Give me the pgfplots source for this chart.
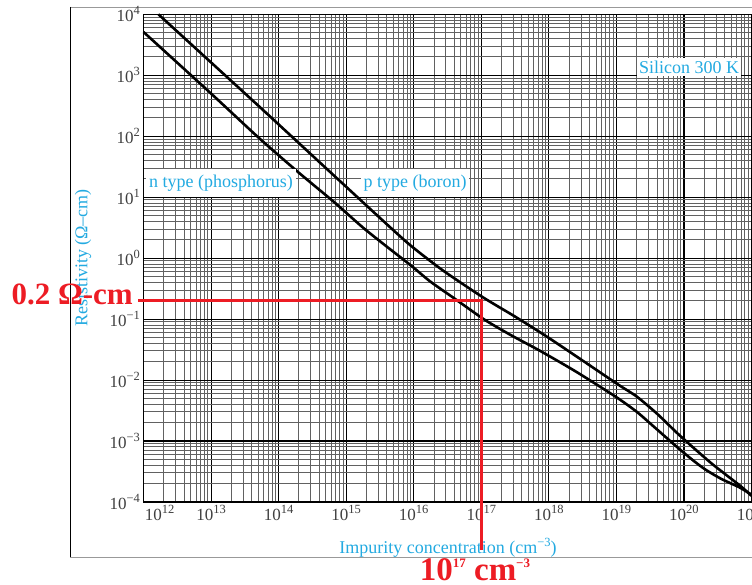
\documentclass[border=0pt]{standalone}
\usepackage{pgfplots}
\pgfplotsset{compat=1.18}
\usepackage{fontspec}
\setmainfont{Liberation Serif}
\definecolor{lblcyan}{RGB}{35,170,225}
\definecolor{annred}{RGB}{237,28,36}
\newcommand{\Sup}[1]{\raisebox{0.42em}{\fontsize{12.5}{12.5}\selectfont #1}}
\newcommand{\RSup}[1]{\raisebox{12.5pt}{\fontsize{13}{13}\selectfont #1}}
\begin{document}
\begin{tikzpicture}[x=1pt,y=1pt]
\useasboundingbox (0,0) rectangle (752,584);
\clip (0,0) rectangle (752,584);
\fill[white] (0,0) rectangle (752,584);
% scanned figure frame
\draw[black!40, line width=0.8pt] (70,577) -- (752,577);
\draw[black!40, line width=0.8pt] (70,27) -- (752,27);
\draw[black, line width=0.9pt] (70,577) -- (70,27);
% axis labels
\node[rotate=90, text=lblcyan, font=\fontsize{18}{18}\selectfont] at (83,326) {Resistivity (Ω–cm)};
\node[text=lblcyan, font=\fontsize{18}{18}\selectfont] at (448,36) {Impurity concentration (cm\Sup{−3})};
\begin{axis}[
  scale only axis, width=608pt, height=487.7pt,
  at={(143.5pt,82pt)}, anchor=south west,
  xmode=log, ymode=log,
  xmin=1e12, xmax=1e21, ymin=1e-4, ymax=1e4,
  xtick={1e12,1e13,1e14,1e15,1e16,1e17,1e18,1e19,1e20,1e21},
  xticklabels={\hspace{32pt}10\Sup{12},10\Sup{13},10\Sup{14},10\Sup{15},10\Sup{16},10\Sup{17},10\Sup{18},10\Sup{19},10\Sup{20},10\Sup{21}},
  ytick={1e-4,1e-3,1e-2,1e-1,1,1e1,1e2,1e3,1e4},
  yticklabels={10\Sup{−4},10\Sup{−3},10\Sup{−2},10\Sup{−1},10\Sup{0},10\Sup{1},10\Sup{2},10\Sup{3},10\Sup{4}},
  ticklabel style={font=\fontsize{17}{17}\selectfont, text=black!75},
  major tick length=0pt, minor tick length=0pt,
  grid=both,
  major grid style={black, line width=1.1pt},
  minor grid style={black!62, line width=1pt},
  axis line style={black, line width=1pt},
  clip=false,
]
% p type (boron)
\addplot[black, line width=2.6pt, smooth, tension=0.4] coordinates {
 (1.66e12,10000) (1e13,1622) (5.25e13,302) (3.47e14,43.7) (1e15,14.8)
 (3.16e15,4.57) (8.71e15,1.66) (2.69e16,0.631) (1.05e17,0.229)
 (3.16e17,0.110) (9.12e17,0.0525) (3.16e18,0.0209) (1.05e19,0.00851)
 (2.0e19,0.00537) (3.98e19,0.00282) (7.94e19,0.00135) (1.35e20,0.000794)
 (2.51e20,0.000437) (4.27e20,0.000275) (7.08e20,0.000178) (1e21,0.000126)
};
% n type (phosphorus)
\addplot[black, line width=2.6pt, smooth, tension=0.4] coordinates {
 (1e12,5130) (1e13,501) (5.25e13,91.2) (2.0e14,25.1) (6.46e14,8.51)
 (1.78e15,3.16) (3.98e15,1.55) (9.33e15,0.741) (1.74e16,0.417)
 (3.98e16,0.219) (1.12e17,0.0977) (2.82e17,0.0537) (7.41e17,0.0302)
 (2.51e18,0.0138) (9.66e18,0.00537) (2.0e19,0.00302) (3.72e19,0.00166)
 (8.32e19,0.000759) (1.41e20,0.000468) (2.09e20,0.000339)
 (3.55e20,0.00024) (6.61e20,0.000174) (1e21,0.000132)
};
% red annotation
\addplot[annred, line width=3pt] coordinates {
 (8.3e11,0.2) (1e17,0.2) (1e17,1.66e-5)
};
\end{axis}
% curve labels
\node[fill=white, text=lblcyan, inner xsep=3pt, inner ysep=6pt, font=\fontsize{18}{18}\selectfont] at (221,401) {n type (phosphorus)};
\node[fill=white, text=lblcyan, inner xsep=3pt, inner ysep=6pt, font=\fontsize{18}{18}\selectfont] at (415,401) {p type (boron)};
\node[fill=white, text=lblcyan, inner xsep=2pt, inner ysep=3pt, font=\fontsize{18}{18}\selectfont] at (689,517) {Silicon 300 K};
% red text
\node[anchor=base east, text=annred, font=\bfseries\fontsize{31}{31}\selectfont, inner sep=0pt] at (133,279) {0.2 Ω-cm};
\node[anchor=base, text=annred, font=\bfseries\fontsize{33}{33}\selectfont, inner sep=0pt] at (475,4) {10\RSup{17} cm\RSup{−3}};
\end{tikzpicture}
\end{document}
